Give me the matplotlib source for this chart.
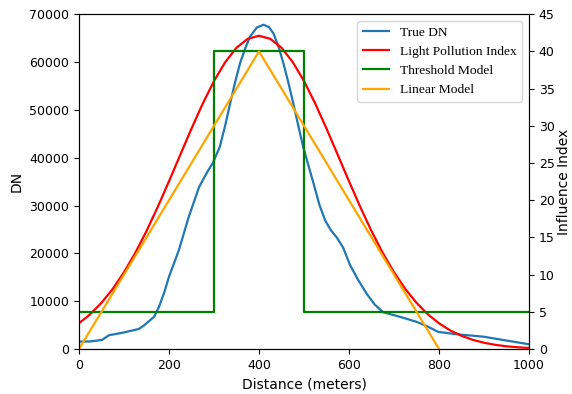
import numpy as np
import matplotlib
matplotlib.use("Agg")
import matplotlib.pyplot as plt

# True DN profile (distance in m, DN)
dist_dn = [0, 25, 51, 67, 96, 133, 144, 167, 178, 190, 200, 222, 244, 267, 285,
           298, 313, 325, 336, 347, 358, 370, 380, 395, 410, 422, 432, 443, 454,
           465, 476, 487, 498, 510, 521, 534, 547, 560, 573, 587, 602, 620, 639,
           657, 676, 713, 750, 775, 798, 839, 898, 1000]
true_dn = [1550, 1600, 1900, 2900, 3400, 4200, 4900, 6750, 8850, 12000, 15100,
           20700, 27650, 33900, 37000, 39000, 42300, 46800, 51400, 55800, 59800,
           63000, 65300, 67200, 67800, 67300, 66000, 63300, 59800, 55800, 51400,
           46800, 42300, 38300, 34700, 30200, 26900, 24800, 23300, 21200, 17600,
           14500, 11600, 9300, 7700, 6750, 5700, 4700, 3600, 3100, 2600, 1000]

# Light pollution index (right axis)
dist_lpi = np.arange(0, 1001, 25)
lpi = [3.46, 4.68, 6.21, 8.08, 10.32, 12.91, 15.85, 19.09, 22.54, 26.09, 29.62,
       32.98, 36.01, 38.56, 40.49, 41.69, 42.1, 41.69, 40.49, 38.56, 36.01, 32.98,
       29.62, 26.09, 22.54, 19.09, 15.85, 12.91, 10.32, 8.08, 6.21, 4.68, 3.46,
       2.50, 1.78, 1.24, 0.85, 0.57, 0.37, 0.24, 0.15]

# threshold and linear models
dist_thr = [0, 300, 300, 500, 500, 1000]
thr = [5, 5, 40, 40, 5, 5]
dist_lin = [0, 400, 800]
lin = [0, 40, 0]

fig, ax = plt.subplots(figsize=(5.72, 3.94), dpi=100)
fig.subplots_adjust(left=0.138, right=0.925, top=0.964, bottom=0.114)
ax2 = ax.twinx()

l1, = ax.plot(dist_dn, true_dn, color='#1f77b4', lw=1.6, label='True DN')
l2, = ax2.plot(dist_lpi, lpi, color='red', lw=1.6, label='Light Pollution Index')
l3, = ax2.plot(dist_thr, thr, color='green', lw=1.6, label='Threshold Model')
l4, = ax2.plot(dist_lin, lin, color='orange', lw=1.6, label='Linear Model')

ax.set_xlim(0, 1000)
ax.set_ylim(0, 70000)
ax2.set_ylim(0, 45)
ax.set_xticks(range(0, 1001, 200))
ax.set_yticks(range(0, 70001, 10000))
ax2.set_yticks(range(0, 46, 5))
ax.tick_params(labelsize=9)
ax2.tick_params(labelsize=9)

ax.set_xlabel('Distance (meters)', fontsize=10)
ax.set_ylabel('DN', fontsize=10)
ax2.set_ylabel('Influence Index', fontsize=10, labelpad=2)

ax2.legend(handles=[l1, l2, l3, l4], loc='upper right',
           prop={'family': 'Liberation Serif', 'size': 9.7})

fig.savefig('out.png')
